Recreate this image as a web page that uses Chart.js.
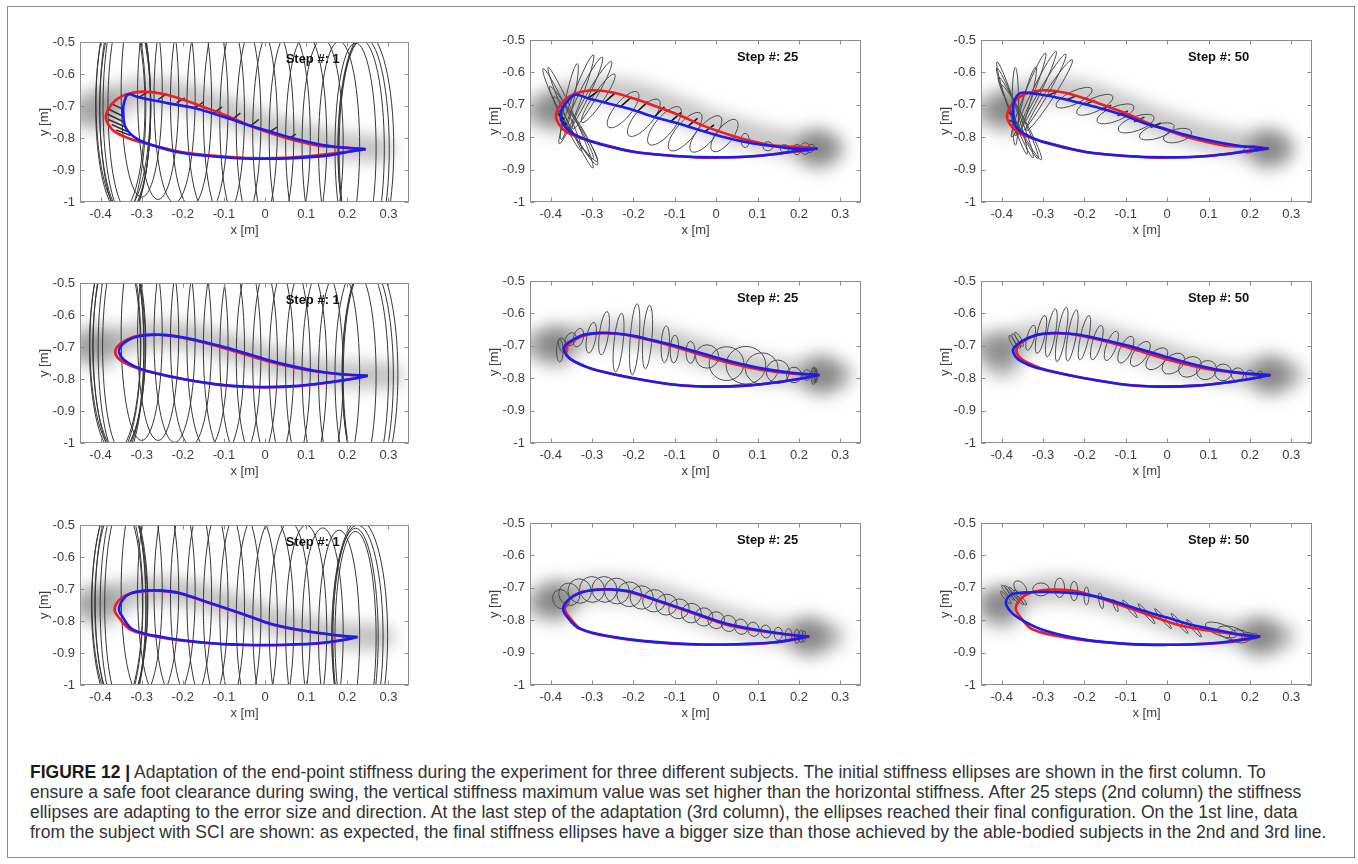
<!DOCTYPE html>
<html>
<head>
<meta charset="utf-8">
<script src="https://cdn.jsdelivr.net/npm/chart.js@4.4.1/dist/chart.umd.min.js"></script>
<style>
body { margin: 0; background: #fff; width: 1358px; height: 864px; position: relative; overflow: hidden; }
#frame { position: absolute; left: 7px; top: 6px; width: 1348px; height: 852px; border: 1.5px solid #8a8a8a; box-sizing: border-box; }
canvas { position: absolute; }
#caption { position: absolute; left: 30px; top: 762px; font-family: "Liberation Sans", Arial, sans-serif; font-size: 17.5px; line-height: 20px; color: #333; white-space: nowrap; }
#caption b { color: #1a1a1a; }
</style>
</head>
<body>
<div id="frame"></div>
<div id="caption">
<div><b>FIGURE 12 |</b> Adaptation of the end-point stiffness during the experiment for three different subjects. The initial stiffness ellipses are shown in the first column. To</div>
<div>ensure a safe foot clearance during swing, the vertical stiffness maximum value was set higher than the horizontal stiffness. After 25 steps (2nd column) the stiffness</div>
<div>ellipses are adapting to the error size and direction. At the last step of the adaptation (3rd column), the ellipses reached their final configuration. On the 1st line, data</div>
<div>from the subject with SCI are shown: as expected, the final stiffness ellipses have a bigger size than those achieved by the able-bodied subjects in the 2nd and 3rd line.</div>
</div>
<script>
// axes
const xTicks = [-0.4, -0.3, -0.2, -0.1, 0, 0.1, 0.2, 0.3];
const yTicks = [-1, -0.9, -0.8, -0.7, -0.6, -0.5];
const stepLabels = ['Step #: 1', 'Step #: 25', 'Step #: 50'];

// reference trajectories (red), one per subject
const refS1 = [[0.245,-0.835],[0.2,-0.83],[0.14,-0.826],[0.08,-0.81],[0.033,-0.793],[-0.03,-0.765],[-0.093,-0.73],[-0.15,-0.703],[-0.2,-0.68],[-0.25,-0.662],[-0.3,-0.655],[-0.34,-0.665],[-0.37,-0.69],[-0.387,-0.73],[-0.38,-0.76],[-0.36,-0.785],[-0.32,-0.806],[-0.28,-0.82],[-0.2,-0.845],[-0.1,-0.858],[-0.03,-0.863],[0.05,-0.862],[0.12,-0.855],[0.19,-0.845],[0.245,-0.835]];
const refS2 = [[0.25,-0.79],[0.187,-0.786],[0.12,-0.776],[0.063,-0.762],[0.0,-0.742],[-0.093,-0.706],[-0.15,-0.686],[-0.2,-0.671],[-0.24,-0.663],[-0.27,-0.661],[-0.31,-0.665],[-0.34,-0.68],[-0.36,-0.70],[-0.364,-0.72],[-0.352,-0.741],[-0.32,-0.762],[-0.287,-0.776],[-0.2,-0.80],[-0.1,-0.82],[-0.014,-0.826],[0.07,-0.823],[0.15,-0.812],[0.21,-0.80],[0.25,-0.79]];
const refS3 = [[0.225,-0.85],[0.2,-0.849],[0.1,-0.832],[0.023,-0.813],[-0.054,-0.779],[-0.13,-0.746],[-0.21,-0.713],[-0.25,-0.706],[-0.29,-0.706],[-0.33,-0.715],[-0.355,-0.735],[-0.366,-0.765],[-0.355,-0.79],[-0.326,-0.828],[-0.247,-0.853],[-0.15,-0.868],[-0.054,-0.875],[0.05,-0.875],[0.14,-0.869],[0.2,-0.857],[0.225,-0.85]];

// actual trajectories (blue), per subject and step
const actS1c1 = [[0.245,-0.835],[0.2,-0.831],[0.14,-0.822],[0.08,-0.805],[0.023,-0.784],[-0.04,-0.76],[-0.093,-0.737],[-0.17,-0.707],[-0.22,-0.695],[-0.27,-0.683],[-0.31,-0.672],[-0.333,-0.664],[-0.343,-0.69],[-0.345,-0.716],[-0.34,-0.764],[-0.317,-0.798],[-0.28,-0.82],[-0.2,-0.847],[-0.1,-0.86],[-0.014,-0.865],[0.08,-0.862],[0.15,-0.855],[0.203,-0.843],[0.245,-0.835]];
const actS1c2 = [[0.245,-0.835],[0.196,-0.836],[0.14,-0.828],[0.08,-0.817],[0.02,-0.80],[-0.037,-0.779],[-0.1,-0.755],[-0.154,-0.736],[-0.21,-0.712],[-0.27,-0.693],[-0.31,-0.68],[-0.34,-0.669],[-0.36,-0.69],[-0.375,-0.72],[-0.372,-0.755],[-0.355,-0.78],[-0.333,-0.798],[-0.28,-0.822],[-0.2,-0.845],[-0.1,-0.858],[0.0,-0.862],[0.1,-0.858],[0.2,-0.842],[0.245,-0.835]];
const actS1c3 = [[0.245,-0.835],[0.177,-0.827],[0.12,-0.815],[0.06,-0.798],[0.0,-0.776],[-0.056,-0.756],[-0.11,-0.73],[-0.172,-0.707],[-0.225,-0.69],[-0.273,-0.676],[-0.32,-0.666],[-0.355,-0.664],[-0.37,-0.69],[-0.372,-0.73],[-0.367,-0.764],[-0.345,-0.79],[-0.3,-0.815],[-0.2,-0.845],[-0.1,-0.858],[0.0,-0.862],[0.1,-0.858],[0.2,-0.842],[0.245,-0.835]];
const actS2c1 = [[0.25,-0.79],[0.187,-0.785],[0.12,-0.774],[0.063,-0.759],[0.0,-0.738],[-0.093,-0.702],[-0.15,-0.684],[-0.2,-0.670],[-0.24,-0.663],[-0.27,-0.662],[-0.31,-0.667],[-0.335,-0.68],[-0.352,-0.70],[-0.355,-0.716],[-0.345,-0.738],[-0.318,-0.76],[-0.287,-0.775],[-0.2,-0.80],[-0.1,-0.819],[-0.014,-0.825],[0.07,-0.822],[0.15,-0.811],[0.21,-0.80],[0.25,-0.79]];
const actS2c2 = [[0.25,-0.79],[0.187,-0.784],[0.12,-0.772],[0.063,-0.757],[0.0,-0.736],[-0.093,-0.702],[-0.15,-0.684],[-0.2,-0.669],[-0.24,-0.662],[-0.28,-0.66],[-0.32,-0.666],[-0.35,-0.684],[-0.366,-0.70],[-0.368,-0.714],[-0.355,-0.738],[-0.32,-0.762],[-0.287,-0.776],[-0.2,-0.80],[-0.1,-0.82],[-0.014,-0.826],[0.07,-0.823],[0.15,-0.812],[0.21,-0.80],[0.25,-0.79]];
const actS2c3 = [[0.25,-0.79],[0.187,-0.785],[0.12,-0.773],[0.063,-0.757],[0.0,-0.735],[-0.093,-0.70],[-0.15,-0.683],[-0.2,-0.669],[-0.24,-0.662],[-0.28,-0.661],[-0.32,-0.668],[-0.352,-0.686],[-0.37,-0.705],[-0.372,-0.72],[-0.36,-0.742],[-0.325,-0.764],[-0.287,-0.777],[-0.2,-0.80],[-0.1,-0.82],[-0.014,-0.826],[0.07,-0.823],[0.15,-0.812],[0.21,-0.80],[0.25,-0.79]];
const actS3c1 = [[0.225,-0.85],[0.2,-0.848],[0.1,-0.831],[0.023,-0.812],[-0.054,-0.778],[-0.13,-0.745],[-0.21,-0.712],[-0.25,-0.705],[-0.29,-0.705],[-0.325,-0.713],[-0.345,-0.732],[-0.355,-0.763],[-0.346,-0.788],[-0.322,-0.826],[-0.247,-0.851],[-0.15,-0.867],[-0.054,-0.874],[0.05,-0.874],[0.14,-0.868],[0.2,-0.857],[0.225,-0.85]];
const actS3c2 = [[0.225,-0.85],[0.2,-0.848],[0.1,-0.83],[0.023,-0.81],[-0.054,-0.777],[-0.13,-0.744],[-0.21,-0.711],[-0.25,-0.705],[-0.29,-0.706],[-0.33,-0.716],[-0.358,-0.738],[-0.37,-0.765],[-0.36,-0.79],[-0.33,-0.826],[-0.247,-0.852],[-0.15,-0.867],[-0.054,-0.874],[0.05,-0.874],[0.14,-0.868],[0.2,-0.856],[0.225,-0.85]];
const actS3c3 = [[0.225,-0.85],[0.18,-0.845],[0.12,-0.83],[0.06,-0.815],[0.0,-0.792],[-0.06,-0.77],[-0.12,-0.745],[-0.18,-0.725],[-0.24,-0.715],[-0.30,-0.713],[-0.35,-0.715],[-0.378,-0.722],[-0.39,-0.745],[-0.377,-0.775],[-0.35,-0.80],[-0.3,-0.83],[-0.2,-0.86],[-0.1,-0.873],[0.0,-0.876],[0.1,-0.872],[0.18,-0.86],[0.225,-0.85]];

// error lines between reference and actual: [x1, y1, x2, y2]
const errS1c1 = [[-0.305,-0.672,-0.285,-0.656],[-0.26,-0.68,-0.24,-0.662],[-0.215,-0.69,-0.195,-0.675],[-0.17,-0.705,-0.15,-0.688],[-0.125,-0.722,-0.105,-0.703],[-0.08,-0.742,-0.06,-0.722],[-0.035,-0.762,-0.015,-0.742],[0.01,-0.782,0.03,-0.765],[0.06,-0.80,0.075,-0.788],[-0.37,-0.695,-0.343,-0.712],[-0.38,-0.71,-0.344,-0.733],[-0.384,-0.725,-0.343,-0.75],[-0.381,-0.742,-0.341,-0.765],[-0.373,-0.758,-0.335,-0.78],[-0.362,-0.775,-0.327,-0.792]];
const errS1c2 = [[-0.31,-0.68,-0.285,-0.657],[-0.27,-0.693,-0.245,-0.664],[-0.23,-0.705,-0.205,-0.676],[-0.19,-0.72,-0.165,-0.69],[-0.15,-0.738,-0.125,-0.706],[-0.11,-0.752,-0.085,-0.724],[-0.07,-0.768,-0.045,-0.742],[-0.03,-0.785,-0.005,-0.762],[-0.382,-0.728,-0.368,-0.745],[-0.378,-0.745,-0.362,-0.762]];
const errS1c3 = [[-0.33,-0.666,-0.305,-0.656],[-0.29,-0.672,-0.265,-0.659],[-0.245,-0.686,-0.22,-0.672],[-0.2,-0.70,-0.175,-0.686],[-0.16,-0.716,-0.135,-0.701],[-0.12,-0.734,-0.095,-0.719],[-0.08,-0.752,-0.055,-0.738],[-0.04,-0.77,-0.015,-0.756],[-0.386,-0.722,-0.368,-0.736],[-0.382,-0.748,-0.364,-0.757]];

// stiffness ellipses: [cx, cy, rx, ry, rotation deg]
const ellS1c1 = [[-0.352,-0.70,0.060,0.33,0],[-0.346,-0.705,0.056,0.34,0],[-0.340,-0.71,0.062,0.33,0],[-0.336,-0.70,0.058,0.35,0],[-0.345,-0.69,0.066,0.34,0],[-0.330,-0.70,0.052,0.33,0],
  [-0.30,-0.655,0.05,0.33,0],[-0.26,-0.662,0.05,0.33,0],[-0.22,-0.672,0.05,0.33,0],[-0.18,-0.685,0.05,0.33,0],[-0.14,-0.705,0.05,0.33,0],[-0.10,-0.725,0.05,0.33,0],[-0.06,-0.745,0.05,0.33,0],[-0.02,-0.765,0.05,0.33,0],[0.02,-0.782,0.05,0.33,0],[0.06,-0.795,0.05,0.33,0],[0.10,-0.808,0.05,0.33,0],[0.14,-0.82,0.05,0.33,0],[0.18,-0.828,0.05,0.33,0],[0.22,-0.833,0.05,0.33,0],
  [0.235,-0.835,0.055,0.34,0],[0.24,-0.835,0.062,0.35,0],[0.245,-0.83,0.068,0.36,0]];
const ellS2c1 = [[-0.365,-0.70,0.062,0.33,0],[-0.36,-0.695,0.058,0.34,0],[-0.355,-0.70,0.064,0.33,0],[-0.35,-0.705,0.056,0.35,0],[-0.358,-0.69,0.068,0.34,0],[-0.345,-0.70,0.05,0.33,0],
  [-0.30,-0.662,0.05,0.33,0],[-0.26,-0.662,0.05,0.33,0],[-0.22,-0.668,0.05,0.33,0],[-0.18,-0.677,0.05,0.33,0],[-0.14,-0.689,0.05,0.33,0],[-0.10,-0.703,0.05,0.33,0],[-0.06,-0.717,0.05,0.33,0],[-0.02,-0.732,0.05,0.33,0],[0.02,-0.746,0.05,0.33,0],[0.06,-0.758,0.05,0.33,0],[0.10,-0.77,0.05,0.33,0],[0.14,-0.779,0.05,0.33,0],[0.18,-0.785,0.05,0.33,0],[0.22,-0.789,0.05,0.33,0],
  [0.245,-0.79,0.055,0.34,0],[0.25,-0.79,0.062,0.35,0],[0.255,-0.785,0.068,0.36,0]];
const ellS3c1 = [[-0.36,-0.75,0.062,0.33,0],[-0.355,-0.745,0.058,0.34,0],[-0.35,-0.75,0.064,0.33,0],[-0.345,-0.755,0.056,0.35,0],[-0.353,-0.74,0.068,0.34,0],[-0.34,-0.75,0.05,0.33,0],
  [-0.30,-0.706,0.05,0.33,0],[-0.26,-0.706,0.05,0.33,0],[-0.22,-0.711,0.05,0.33,0],[-0.18,-0.722,0.05,0.33,0],[-0.14,-0.738,0.05,0.33,0],[-0.10,-0.757,0.05,0.33,0],[-0.06,-0.776,0.05,0.33,0],[-0.02,-0.793,0.05,0.33,0],[0.02,-0.808,0.05,0.33,0],[0.06,-0.82,0.05,0.33,0],[0.10,-0.83,0.05,0.33,0],[0.14,-0.839,0.05,0.33,0],[0.18,-0.846,0.05,0.33,0],[0.22,-0.85,0.05,0.33,0],
  [0.22,-0.85,0.055,0.34,0],[0.225,-0.85,0.062,0.35,0],[0.23,-0.845,0.068,0.36,0]];
const ellS1c2 = [[-0.372,-0.715,0.010,0.14,-25],[-0.352,-0.74,0.010,0.17,-24],[-0.35,-0.755,0.011,0.13,-31],[-0.34,-0.775,0.012,0.12,-34],[-0.33,-0.79,0.012,0.11,-30],
  [-0.355,-0.69,0.010,0.12,12],[-0.338,-0.683,0.011,0.147,21],[-0.32,-0.67,0.012,0.13,26],[-0.30,-0.67,0.012,0.12,30],[-0.285,-0.68,0.013,0.09,34],
  [-0.225,-0.715,0.020,0.070,40],[-0.175,-0.74,0.021,0.072,40],[-0.125,-0.765,0.022,0.074,40],[-0.075,-0.783,0.022,0.074,40],[-0.025,-0.79,0.021,0.07,40],[0.02,-0.795,0.02,0.06,38],
  [0.07,-0.81,0.010,0.022,0],[0.125,-0.828,0.012,0.014,0],[0.165,-0.835,0.010,0.012,0],[0.195,-0.838,0.010,0.016,0],[0.215,-0.835,0.012,0.018,0],[0.228,-0.835,0.008,0.014,30]];
const ellS1c3 = [[-0.375,-0.71,0.009,0.15,-18],[-0.368,-0.725,0.009,0.15,-22],[-0.36,-0.74,0.010,0.14,-26],[-0.352,-0.755,0.010,0.13,-28],[-0.367,-0.705,0.008,0.12,0],
  [-0.335,-0.67,0.010,0.14,22],[-0.318,-0.665,0.010,0.145,26],[-0.30,-0.665,0.011,0.14,30],[-0.285,-0.67,0.011,0.13,33],[-0.34,-0.69,0.009,0.11,15],
  [-0.225,-0.678,0.048,0.02,-25],[-0.175,-0.70,0.048,0.021,-25],[-0.125,-0.728,0.048,0.022,-22],[-0.075,-0.758,0.046,0.022,-20],[-0.025,-0.782,0.044,0.021,-18],[0.025,-0.795,0.035,0.02,-15],
  [0.20,-0.838,0.016,0.01,-15],[0.212,-0.835,0.012,0.008,0],[0.225,-0.835,0.008,0.006,0]];
const ellS2c2 = [[-0.378,-0.715,0.008,0.035,0],[-0.37,-0.70,0.010,0.025,-20],[-0.352,-0.68,0.012,0.022,30],[-0.333,-0.675,0.012,0.029,15],[-0.302,-0.675,0.011,0.048,10],[-0.271,-0.661,0.011,0.067,8],[-0.236,-0.69,0.011,0.091,6],[-0.197,-0.68,0.011,0.11,4],[-0.166,-0.673,0.011,0.098,4],[-0.123,-0.695,0.010,0.057,3],[-0.101,-0.71,0.010,0.043,3],[-0.062,-0.72,0.011,0.034,0],
  [-0.022,-0.733,0.028,0.036,0],[0.025,-0.755,0.042,0.052,0],[0.072,-0.76,0.048,0.058,0],[0.11,-0.77,0.04,0.048,0],[0.149,-0.78,0.028,0.036,0],[0.188,-0.79,0.018,0.024,0],[0.219,-0.79,0.01,0.016,0],[0.235,-0.793,0.006,0.026,0],[0.238,-0.79,0.005,0.024,0],[0.241,-0.792,0.004,0.022,0]];
const ellS2c3 = [[-0.372,-0.69,0.005,0.025,-30],[-0.365,-0.685,0.005,0.025,-30],[-0.358,-0.68,0.005,0.025,-30],
  [-0.33,-0.675,0.009,0.04,15],[-0.305,-0.665,0.01,0.06,12],[-0.28,-0.66,0.01,0.075,10],[-0.255,-0.665,0.01,0.085,10],[-0.23,-0.668,0.01,0.08,10],[-0.20,-0.675,0.01,0.07,12],[-0.17,-0.69,0.011,0.055,15],[-0.135,-0.70,0.012,0.048,20],[-0.10,-0.712,0.014,0.045,25],[-0.065,-0.725,0.016,0.045,35],[-0.025,-0.74,0.018,0.042,45],[0.015,-0.755,0.02,0.04,50],[0.055,-0.765,0.022,0.038,55],[0.095,-0.775,0.022,0.032,55],[0.135,-0.782,0.02,0.026,45],[0.17,-0.788,0.015,0.02,30],[0.2,-0.79,0.01,0.015,0],[0.225,-0.79,0.006,0.012,0]];
const ellS3c2 = [[-0.375,-0.735,0.02,0.03,-20],[-0.355,-0.72,0.025,0.035,-25],[-0.33,-0.71,0.028,0.038,-25],[-0.30,-0.705,0.03,0.04,-25],[-0.27,-0.705,0.03,0.04,-25],[-0.24,-0.71,0.03,0.04,-25],[-0.21,-0.72,0.03,0.038,-25],[-0.18,-0.73,0.028,0.036,-25],[-0.15,-0.74,0.028,0.034,-25],[-0.12,-0.752,0.026,0.032,-25],[-0.09,-0.765,0.025,0.03,-25],[-0.06,-0.778,0.024,0.03,-25],[-0.03,-0.79,0.022,0.028,-25],[0.0,-0.80,0.02,0.026,-25],[0.03,-0.81,0.018,0.025,-20],[0.06,-0.82,0.016,0.024,-20],[0.09,-0.828,0.014,0.022,-15],[0.12,-0.835,0.012,0.02,-10],[0.15,-0.842,0.01,0.02,0],[0.175,-0.846,0.008,0.02,0],[0.195,-0.85,0.006,0.022,0],[0.205,-0.85,0.005,0.02,0],[0.212,-0.85,0.004,0.018,0]];
const ellS3c3 = [[-0.385,-0.715,0.004,0.03,-40],[-0.375,-0.72,0.004,0.035,-40],[-0.365,-0.725,0.004,0.035,-40],[-0.355,-0.73,0.004,0.03,-40],[-0.39,-0.73,0.004,0.025,-40],[-0.355,-0.70,0.012,0.025,-40],
  [-0.305,-0.705,0.02,0.02,0],[-0.26,-0.70,0.012,0.03,0],[-0.225,-0.71,0.009,0.03,0],[-0.195,-0.725,0.006,0.028,0],[-0.16,-0.74,0.005,0.025,-10],[-0.125,-0.755,0.004,0.02,-20],
  [-0.09,-0.765,0.004,0.035,-40],[-0.05,-0.78,0.004,0.04,-40],[-0.01,-0.795,0.004,0.04,-40],[0.03,-0.81,0.004,0.04,-40],[0.065,-0.825,0.004,0.035,-40],
  [0.13,-0.83,0.04,0.018,20],[0.155,-0.84,0.035,0.02,15],[0.175,-0.85,0.025,0.02,10],[0.195,-0.85,0.015,0.012,0],[0.21,-0.85,0.01,0.008,0]];

// gray spread of the recorded paths
const cloudS1 = [[-0.46,-0.72],[-0.41,-0.71],[-0.36,-0.68],[-0.3,-0.655],[-0.2,-0.668],[-0.1,-0.712],[0.0,-0.762],[0.1,-0.80],[0.2,-0.825],[0.28,-0.835]];
const cloudS2 = [[-0.46,-0.70],[-0.39,-0.69],[-0.3,-0.665],[-0.2,-0.664],[-0.1,-0.695],[0.0,-0.735],[0.1,-0.77],[0.2,-0.785],[0.3,-0.79]];
const cloudS3 = [[-0.44,-0.75],[-0.37,-0.73],[-0.3,-0.705],[-0.2,-0.71],[-0.1,-0.745],[0.0,-0.79],[0.1,-0.825],[0.2,-0.845],[0.28,-0.85]];
const blobS1c1 = [[-0.40,-0.71]];
const blobS1c2 = [[-0.39,-0.72],[0.245,-0.835]];
const blobS1c3 = [[-0.39,-0.72],[0.245,-0.835]];
const blobS2c1 = [[-0.41,-0.70]];
const blobS2c2 = [[-0.39,-0.70],[0.255,-0.79]];
const blobS2c3 = [[-0.40,-0.73],[0.25,-0.79]];
const blobS3c1 = [[-0.40,-0.75]];
const blobS3c2 = [[-0.39,-0.74],[0.225,-0.85]];
const blobS3c3 = [[-0.40,-0.76],[0.225,-0.85]];

const panels = [
  { ref: refS1, act: actS1c1, ell: ellS1c1, err: errS1c1, cloud: cloudS1, blob: blobS1c1 },
  { ref: refS1, act: actS1c2, ell: ellS1c2, err: errS1c2, cloud: cloudS1, blob: blobS1c2 },
  { ref: refS1, act: actS1c3, ell: ellS1c3, err: errS1c3, cloud: cloudS1, blob: blobS1c3 },
  { ref: refS2, act: actS2c1, ell: ellS2c1, err: [], cloud: cloudS2, blob: blobS2c1 },
  { ref: refS2, act: actS2c2, ell: ellS2c2, err: [], cloud: cloudS2, blob: blobS2c2 },
  { ref: refS2, act: actS2c3, ell: ellS2c3, err: [], cloud: cloudS2, blob: blobS2c3 },
  { ref: refS3, act: actS3c1, ell: ellS3c1, err: [], cloud: cloudS3, blob: blobS3c1 },
  { ref: refS3, act: actS3c2, ell: ellS3c2, err: [], cloud: cloudS3, blob: blobS3c2 },
  { ref: refS3, act: actS3c3, ell: ellS3c3, err: [], cloud: cloudS3, blob: blobS3c3 }
];

// layout
const plotLeft = [80, 530, 981];
const plotTop = [28, 269, 511];
const yAxisW = 48, xAxisH = 38, padT = 8, padR = 8;
const plotW = 343, plotH = 174;
const stepPos = [0.05, -0.555];
const FONT = '"Liberation Sans", Arial, sans-serif';

const pts = arr => arr.map(p => ({ x: p[0], y: p[1] }));
function segs(arr) {
  const out = [];
  arr.forEach(s => { out.push({ x: s[0], y: s[1] }, { x: s[2], y: s[3] }, { x: s[2], y: null }); });
  return out;
}

function makeExtras(p, col) {
  return {
    id: 'extras',
    beforeDatasetDraw(chart, args) {
      const ds = chart.data.datasets[args.index];
      if (ds.blur) { chart.ctx.save(); chart.ctx.filter = 'blur(' + ds.blur + 'px)'; }
      if (ds.ellipsesBefore) {
        const ctx = chart.ctx, a = chart.chartArea, sx = chart.scales.x, sy = chart.scales.y;
        ctx.save();
        ctx.beginPath(); ctx.rect(a.left, a.top, a.right - a.left, a.bottom - a.top); ctx.clip();
        ctx.strokeStyle = col === 0 ? '#363636' : '#4d4d4d';
        ctx.lineWidth = 1;
        p.ell.forEach(e => {
          const cx = sx.getPixelForValue(e[0]), cy = sy.getPixelForValue(e[1]);
          const rx = Math.abs(sx.getPixelForValue(e[0] + e[2]) - cx);
          const ry = Math.abs(sy.getPixelForValue(e[1] + e[3]) - cy);
          ctx.beginPath();
          ctx.ellipse(cx, cy, rx, ry, e[4] * Math.PI / 180, 0, Math.PI * 2);
          ctx.stroke();
        });
        ctx.restore();
      }
    },
    afterDatasetDraw(chart, args) {
      const ds = chart.data.datasets[args.index];
      if (ds.blur) chart.ctx.restore();
    },
    afterDatasetsDraw(chart) {
      const ctx = chart.ctx, a = chart.chartArea, sx = chart.scales.x, sy = chart.scales.y;
      ctx.save();
      ctx.strokeStyle = '#8c8c8c';
      ctx.lineWidth = 1;
      const L = Math.round(a.left) + 0.5, R = Math.round(a.right) - 0.5;
      const T = Math.round(a.top) + 0.5, B = Math.round(a.bottom) - 0.5;
      ctx.strokeRect(L, T, R - L, B - T);
      ctx.beginPath();
      xTicks.forEach(v => {
        const px = Math.round(sx.getPixelForValue(v)) + 0.5;
        ctx.moveTo(px, B); ctx.lineTo(px, B - 4);
        ctx.moveTo(px, T); ctx.lineTo(px, T + 4);
      });
      yTicks.forEach(v => {
        const py = Math.round(sy.getPixelForValue(v)) + 0.5;
        ctx.moveTo(L, py); ctx.lineTo(L + 4, py);
        ctx.moveTo(R, py); ctx.lineTo(R - 4, py);
      });
      ctx.stroke();
      ctx.fillStyle = '#111';
      ctx.font = 'bold 13px ' + FONT;
      ctx.textAlign = 'left';
      ctx.textBaseline = 'middle';
      ctx.fillText(stepLabels[col], sx.getPixelForValue(stepPos[0]), sy.getPixelForValue(stepPos[1]));
      ctx.restore();
    }
  };
}

panels.forEach((p, i) => {
  const row = Math.floor(i / 3), col = i % 3;
  const cv = document.createElement('canvas');
  cv.width = yAxisW + plotW + padR;
  cv.height = padT + plotH + xAxisH;
  cv.style.left = (plotLeft[col] - yAxisW) + 'px';
  cv.style.top = (plotTop[row] - padT) + 'px';
  document.body.appendChild(cv);

  const light = col === 0;
  new Chart(cv, {
    type: 'scatter',
    data: {
      datasets: [
        { data: pts(p.act), showLine: true, borderColor: '#1c1cf0', borderWidth: 2.6, pointRadius: 0, tension: 0.35, fill: false },
        { data: pts(p.ref), showLine: true, borderColor: '#ee1d23', borderWidth: 2.6, pointRadius: 0, tension: 0.35, fill: false },
        { data: segs(p.err), showLine: true, spanGaps: false, borderColor: col === 1 ? '#111' : '#333', borderWidth: 1.6, pointRadius: 0, ellipsesBefore: true },
        { data: pts(p.blob), showLine: false, pointRadius: light ? 22 : 20, pointBackgroundColor: light ? 'rgba(110,110,110,0.42)' : 'rgba(80,80,80,0.55)', pointBorderWidth: 0, blur: 9 },
        { data: pts(p.cloud), showLine: true, borderColor: light ? 'rgba(110,110,110,0.42)' : 'rgba(105,105,105,0.38)', borderWidth: 26, pointRadius: 0, tension: 0.4, borderCapStyle: 'round', blur: 8 }
      ]
    },
    options: {
      responsive: false,
      animation: false,
      devicePixelRatio: 1,
      events: [],
      layout: { padding: { top: padT, right: padR, left: 0, bottom: 0 } },
      plugins: { legend: { display: false }, tooltip: { enabled: false } },
      scales: {
        x: {
          type: 'linear', min: -0.45, max: 0.35,
          afterBuildTicks: s => { s.ticks = xTicks.map(v => ({ value: v })); },
          afterFit: s => { s.height = xAxisH; },
          grid: { display: false, drawTicks: false },
          border: { display: false },
          ticks: { padding: 5, color: '#3d3d3d', font: { size: 13, family: FONT }, maxRotation: 0, autoSkip: false, callback: v => String(v) },
          title: { display: true, text: 'x [m]', color: '#3d3d3d', font: { size: 13, family: FONT }, padding: { top: 0, bottom: 2 } }
        },
        y: {
          type: 'linear', min: -1, max: -0.5,
          afterBuildTicks: s => { s.ticks = yTicks.map(v => ({ value: v })); },
          afterFit: s => { s.width = yAxisW; },
          grid: { display: false, drawTicks: false },
          border: { display: false },
          ticks: { padding: 5, color: '#3d3d3d', font: { size: 13, family: FONT }, autoSkip: false, callback: v => String(v) },
          title: { display: true, text: 'y [m]', color: '#3d3d3d', font: { size: 13, family: FONT }, padding: { top: 5, bottom: 0 } }
        }
      }
    },
    plugins: [makeExtras(p, col)]
  });
});
</script>
</body>
</html>
